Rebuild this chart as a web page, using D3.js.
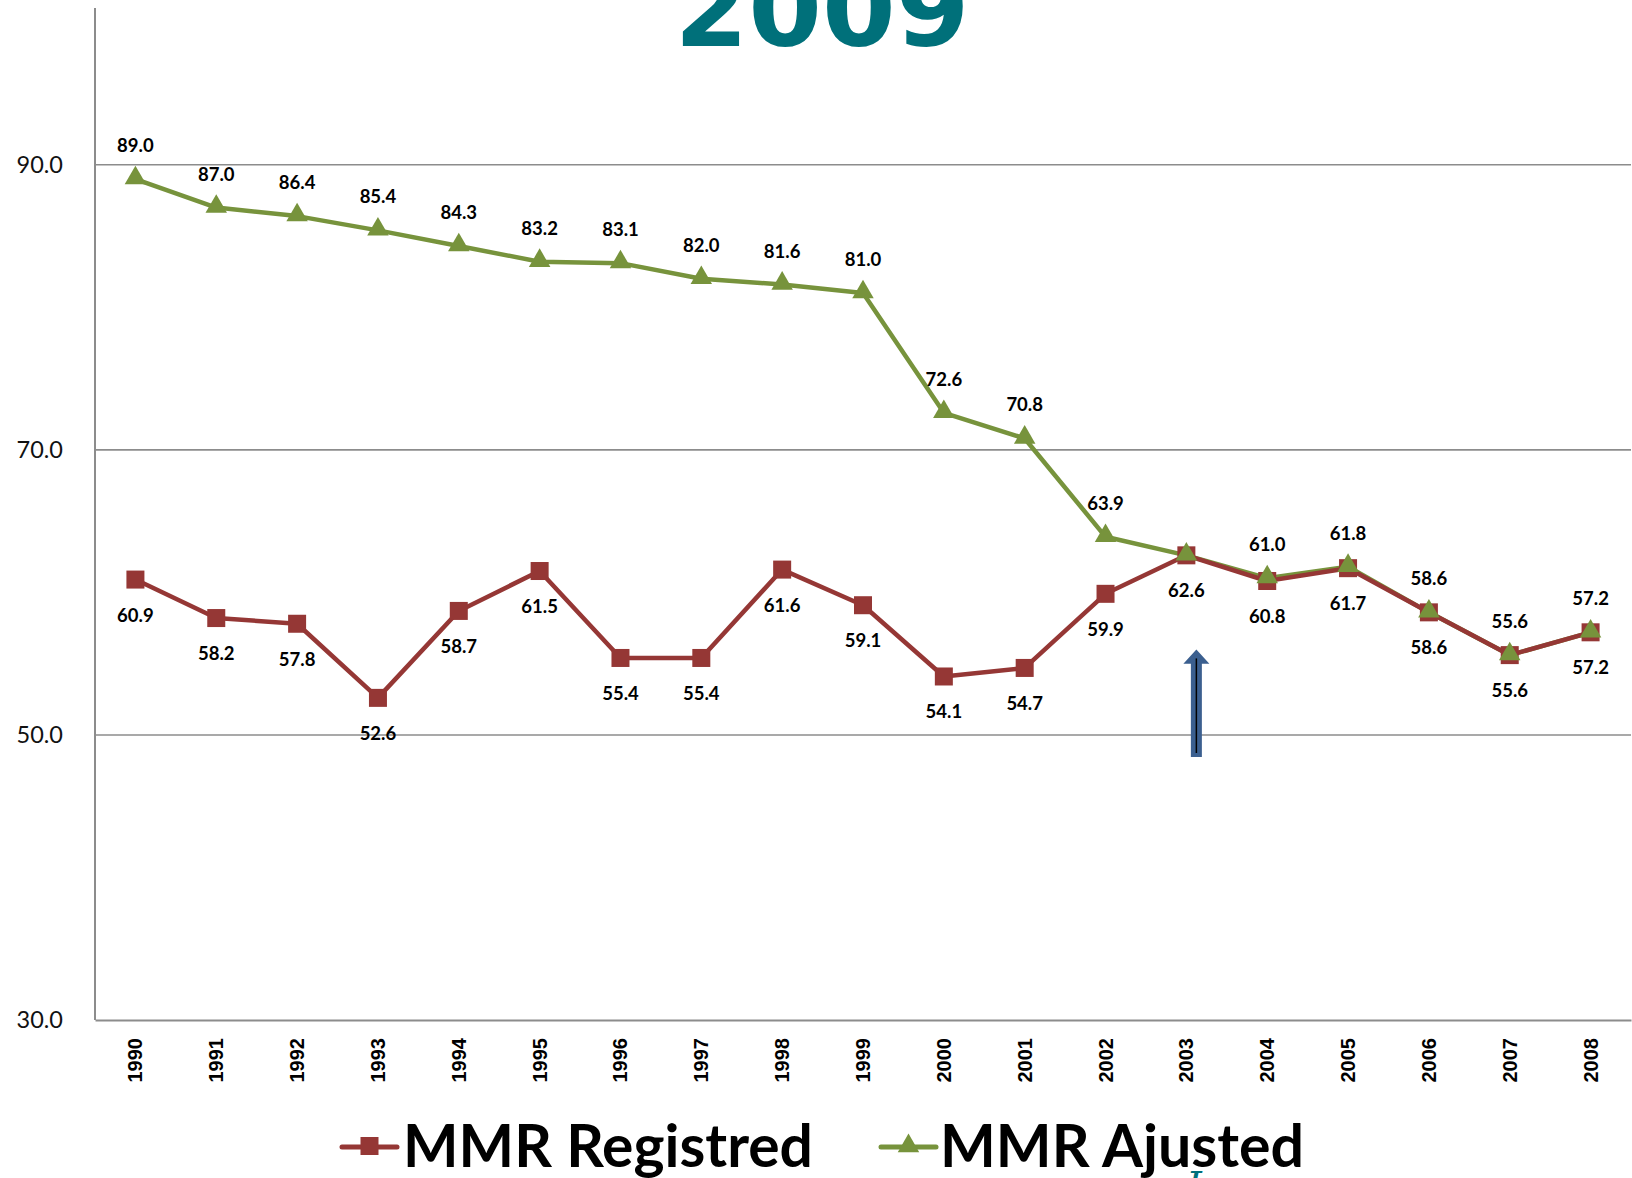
<!doctype html>
<html>
<head>
<meta charset="utf-8">
<script src="https://cdn.jsdelivr.net/npm/d3@7"></script>
<style>
  html, body { margin: 0; padding: 0; background: #fff; overflow: hidden; }
  svg { display: block; }
</style>
</head>
<body>
<svg id="chart" width="1632" height="1178"></svg>
<script>
  var years = [1990, 1991, 1992, 1993, 1994, 1995, 1996, 1997, 1998, 1999,
               2000, 2001, 2002, 2003, 2004, 2005, 2006, 2007, 2008];
  var registred = [60.9, 58.2, 57.8, 52.6, 58.7, 61.5, 55.4, 55.4, 61.6, 59.1,
                   54.1, 54.7, 59.9, 62.6, 60.8, 61.7, 58.6, 55.6, 57.2];
  var ajusted = [89.0, 87.0, 86.4, 85.4, 84.3, 83.2, 83.1, 82.0, 81.6, 81.0,
                 72.6, 70.8, 63.9, 62.6, 61.0, 61.8, 58.6, 55.6, 57.2];
  // 2003 label of the adjusted series is not shown in the original
  var ajustedHidden = [2003];
  var yTicks = [30, 50, 70, 90];
  var seriesNames = ['MMR Registred', 'MMR Ajusted'];

  var red = '#953735', green = '#77933C', grid = '#8c8c8c';
  var fmt = d3.format('.1f');

  var svg = d3.select('#chart');

  var x = d3.scaleBand().domain(years).range([95, 1631]);
  var y = d3.scaleLinear().domain([30, 101]).range([1020, 8]);
  var cx = function (d, i) { return x(years[i]) + x.bandwidth() / 2; };

  // title (cut off at the top)
  svg.append('text')
    .attr('x', 822).attr('y', 46)
    .attr('text-anchor', 'middle')
    .style('font-family', 'DejaVu Sans')
    .style('font-weight', 'bold')
    .style('font-size', '106px')
    .attr('fill', '#00707A')
    .text('2009');

  // gridlines
  svg.append('g').selectAll('line')
    .data(yTicks.filter(function (t) { return t !== 30; }))
    .enter().append('line')
    .attr('x1', 95).attr('x2', 1631)
    .attr('y1', function (d) { return y(d); })
    .attr('y2', function (d) { return y(d); })
    .attr('stroke', grid).attr('stroke-width', 1.6);

  // y axis
  var yAxis = svg.append('g')
    .attr('transform', 'translate(95,0)')
    .call(d3.axisLeft(y).tickValues(yTicks).tickFormat(fmt).tickSize(0).tickPadding(32));
  yAxis.select('.domain').remove();
  yAxis.selectAll('text')
    .style('font-family', 'Lato, "Open Sans", sans-serif')
    .style('font-size', '23.5px')
    .attr('fill', '#111');

  svg.append('line')
    .attr('x1', 95).attr('x2', 95).attr('y1', 8).attr('y2', 1020)
    .attr('stroke', grid).attr('stroke-width', 2);

  // x axis
  var xAxis = svg.append('g')
    .attr('transform', 'translate(0,1020)')
    .call(d3.axisBottom(x).tickSize(0).tickPadding(0));
  xAxis.select('.domain').attr('stroke', grid).attr('stroke-width', 2);
  xAxis.selectAll('text')
    .attr('transform', 'translate(0,18) rotate(-90)')
    .attr('text-anchor', 'end')
    .attr('dy', '0.35em')
    .attr('x', 0).attr('y', 0)
    .style('font-family', '"Liberation Sans", Arial, sans-serif')
    .style('font-weight', 'bold')
    .style('font-size', '20px')
    .attr('fill', '#000');

  var line = d3.line()
    .x(cx)
    .y(function (d) { return y(d); });

  // arrow annotation near 2003
  var ax = x(2003) + x.bandwidth() / 2 + 10;
  var aTop = y(56.0), aHead = y(55.0), aBot = y(48.45);
  svg.append('path')
    .attr('d', 'M' + (ax - 5.5) + ',' + aBot + 'L' + (ax - 5.5) + ',' + aHead +
      'L' + (ax - 13) + ',' + aHead + 'L' + ax + ',' + aTop + 'L' + (ax + 13) + ',' + aHead +
      'L' + (ax + 5.5) + ',' + aHead + 'L' + (ax + 5.5) + ',' + aBot + 'Z')
    .attr('fill', '#3B5F8F');
  svg.append('line')
    .attr('x1', ax).attr('x2', ax).attr('y1', aTop + 9).attr('y2', aBot - 4)
    .attr('stroke', '#000').attr('stroke-width', 1.5);

  // adjusted series
  svg.append('path').datum(ajusted)
    .attr('d', line).attr('fill', 'none')
    .attr('stroke', green).attr('stroke-width', 4.5).attr('stroke-linejoin', 'round');

  // registred series
  svg.append('path').datum(registred)
    .attr('d', line).attr('fill', 'none')
    .attr('stroke', red).attr('stroke-width', 4.5).attr('stroke-linejoin', 'round');

  svg.append('g').selectAll('rect')
    .data(registred).enter().append('rect')
    .attr('x', function (d, i) { return cx(d, i) - 9; })
    .attr('y', function (d) { return y(d) - 9; })
    .attr('width', 18).attr('height', 18)
    .attr('fill', red);

  var tri = d3.symbol().type(d3.symbolTriangle).size(200);
  svg.append('g').selectAll('path')
    .data(ajusted).enter().append('path')
    .attr('d', tri)
    .attr('transform', function (d, i) { return 'translate(' + cx(d, i) + ',' + (y(d) - 1) + ')'; })
    .attr('fill', green);

  // data labels
  var labelStyle = function (sel) {
    sel.attr('text-anchor', 'middle')
      .style('font-family', 'Lato, "Open Sans", sans-serif')
      .style('font-weight', 'bold')
      .style('font-size', '18.5px')
      .attr('fill', '#000');
  };
  svg.append('g').selectAll('text')
    .data(ajusted).enter().append('text')
    .attr('x', cx)
    .attr('y', function (d) { return y(d) - 27; })
    .text(function (d, i) { return ajustedHidden.indexOf(years[i]) < 0 ? fmt(d) : ''; })
    .call(labelStyle);
  svg.append('g').selectAll('text')
    .data(registred).enter().append('text')
    .attr('x', cx)
    .attr('y', function (d) { return y(d) + 42; })
    .text(function (d) { return fmt(d); })
    .call(labelStyle);

  // legend
  var legend = [
    { name: seriesNames[0], color: red, x0: 342, tx: 403, len: 410, marker: 'square' },
    { name: seriesNames[1], color: green, x0: 881, tx: 940, len: 364, marker: 'triangle' }
  ];
  var lg = svg.append('g').selectAll('g').data(legend).enter().append('g');
  lg.append('line')
    .attr('x1', function (d) { return d.x0; })
    .attr('x2', function (d) { return d.x0 + 55; })
    .attr('y1', 1147).attr('y2', 1147)
    .attr('stroke', function (d) { return d.color; })
    .attr('stroke-width', 5).attr('stroke-linecap', 'round');
  lg.append('path')
    .attr('d', function (d) {
      return d.marker === 'square' ? d3.symbol().type(d3.symbolSquare).size(324)() : tri();
    })
    .attr('transform', function (d) { return 'translate(' + (d.x0 + 27.5) + ',1146)'; })
    .attr('fill', function (d) { return d.color; });
  lg.append('text')
    .attr('x', function (d) { return d.tx; })
    .attr('y', 1167)
    .attr('textLength', function (d) { return d.len; })
    .attr('lengthAdjust', 'spacingAndGlyphs')
    .style('font-family', 'Lato, "Open Sans", sans-serif')
    .style('font-weight', 'bold')
    .style('font-size', '60px')
    .attr('fill', '#000')
    .text(function (d) { return d.name; });

  // cut-off teal glyph below the legend
  svg.append('text')
    .attr('x', 1186).attr('y', 1200)
    .style('font-family', 'DejaVu Serif')
    .style('font-size', '40px')
    .style('font-style', 'italic')
    .attr('fill', '#00707A')
    .text('I');
</script>
</body>
</html>
